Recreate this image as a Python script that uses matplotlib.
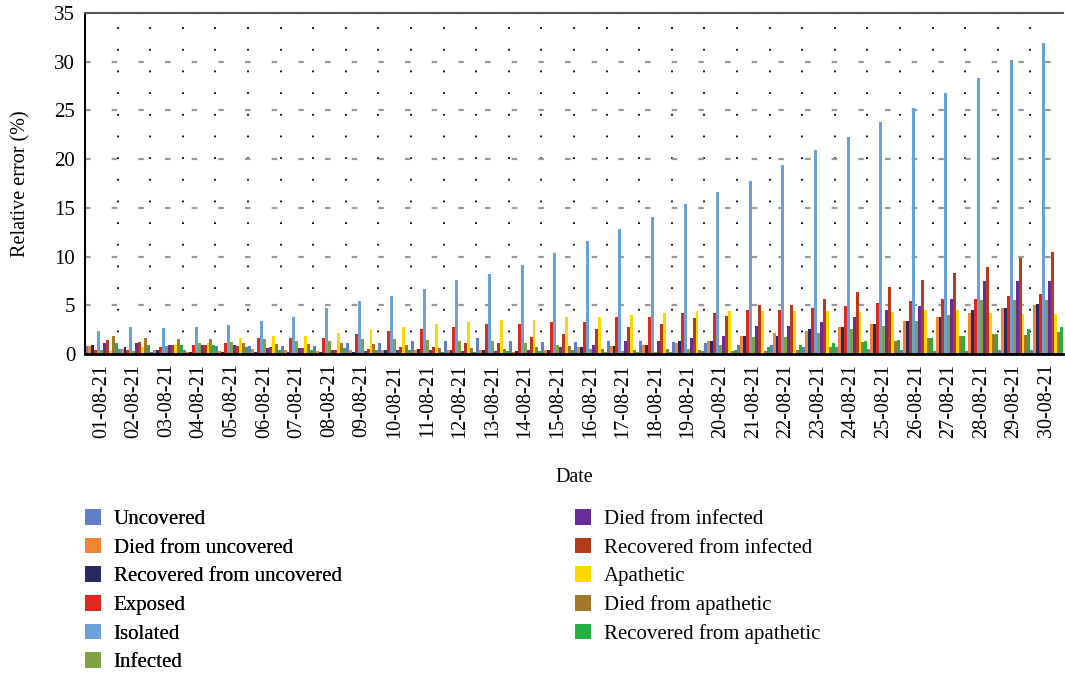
import numpy as np
import matplotlib
matplotlib.use('Agg')
import matplotlib.pyplot as plt

plt.rcParams['font.family'] = ['Liberation Serif', 'DejaVu Serif']

dates = ['%02d-08-21' % d for d in range(1, 31)]

uncovered = [0.82, 0.50, 0.20, 0.41, 0.82, 0.82, 0.82, 0.82, 1.12, 1.12, 1.33, 1.33, 1.63, 1.33, 1.22,
             1.22, 1.33, 1.33, 1.22, 1.12, 0.92, 0.92, 0.71, 0.71, 0.51, 0.41, 0.31, 0.31, 0.41, 0.41]
died_uncovered = [0.82, 0.50, 0.40, 0.20, 0.30, 0.50, 0.41, 0.30, 0.41, 0.41, 0.41, 0.41, 0.41, 0.20, 0.41,
                  0.71, 0.82, 0.92, 1.12, 1.33, 1.84, 2.14, 2.35, 2.76, 3.06, 3.37, 3.78, 4.18, 4.69, 5.00]
rec_uncovered = [0.92, 0.71, 0.41, 0.20, 0.20, 0.20, 0.20, 0.20, 0.20, 0.41, 0.51, 0.41, 0.41, 0.31, 0.41,
                 0.71, 0.82, 0.92, 1.33, 1.33, 1.84, 1.84, 2.55, 2.76, 3.06, 3.37, 3.78, 4.49, 4.69, 5.10]
exposed = [0.41, 0.41, 0.71, 0.92, 1.12, 1.63, 1.63, 1.63, 2.04, 2.35, 2.55, 2.76, 3.06, 3.06, 3.27,
           3.27, 3.78, 3.78, 4.18, 4.18, 4.49, 4.49, 4.69, 4.90, 5.20, 5.41, 5.61, 5.61, 5.92, 6.12]
isolated = [2.35, 2.76, 2.65, 2.76, 2.96, 3.37, 3.78, 4.69, 5.41, 5.92, 6.63, 7.55, 8.16, 9.18, 10.4,
            11.6, 12.8, 14.1, 15.4, 16.6, 17.8, 19.4, 20.9, 22.3, 23.8, 25.3, 26.8, 28.3, 30.2, 31.9]
infected = [0.41, 0.31, 0.82, 1.12, 1.22, 1.53, 1.33, 1.33, 1.53, 1.53, 1.43, 1.33, 1.33, 1.12, 0.92,
            0.51, 0.31, 0.20, 0.51, 0.92, 1.73, 1.73, 2.14, 2.55, 2.86, 3.37, 3.98, 5.51, 5.51, 5.51]
died_infected = [1.12, 1.12, 0.92, 0.92, 0.92, 0.61, 0.61, 0.41, 0.31, 0.41, 0.41, 0.31, 0.31, 0.41, 0.71,
                 0.92, 1.33, 1.33, 1.63, 1.84, 2.86, 2.86, 3.27, 3.78, 4.49, 4.90, 5.61, 7.45, 7.45, 7.45]
rec_infected = [1.43, 1.22, 0.92, 0.92, 0.82, 0.71, 0.61, 0.41, 0.51, 0.71, 0.71, 1.12, 1.12, 1.73, 2.04,
                2.55, 2.76, 3.06, 3.67, 3.88, 5.00, 5.00, 5.61, 6.33, 6.84, 7.55, 8.27, 8.98, 9.90, 10.5]
apathetic = [0.31, 0.71, 0.92, 1.12, 1.63, 1.84, 1.84, 2.14, 2.55, 2.76, 3.06, 3.27, 3.47, 3.47, 3.78,
             3.78, 3.98, 4.18, 4.39, 4.39, 4.39, 4.39, 4.39, 4.29, 4.29, 4.49, 4.49, 4.18, 4.08, 4.08]
died_apathetic = [1.84, 1.63, 1.53, 1.53, 1.12, 1.02, 1.02, 1.12, 1.02, 0.92, 0.61, 0.61, 0.51, 0.71, 0.82,
                  0.51, 0.41, 0.51, 0.41, 0.31, 0.31, 0.41, 0.71, 1.22, 1.33, 1.63, 1.84, 2.04, 1.94, 2.24]
rec_apathetic = [1.12, 0.92, 0.92, 0.92, 0.71, 0.41, 0.41, 0.61, 0.41, 0.41, 0.20, 0.20, 0.31, 0.31, 0.41,
                 0.20, 0.20, 0.20, 0.31, 0.41, 0.71, 0.92, 1.12, 1.33, 1.43, 1.63, 1.84, 2.04, 2.55, 2.76]

series = [
    ('Uncovered', uncovered, '#5f7fc9'),
    ('Died from uncovered', died_uncovered, '#f28432'),
    ('Recovered from uncovered', rec_uncovered, '#272a62'),
    ('Exposed', exposed, '#e0281e'),
    ('Isolated', isolated, '#6aa2d8'),
    ('Infected', infected, '#7fa343'),
    ('Died from infected', died_infected, '#6b2c9b'),
    ('Recovered from infected', rec_infected, '#b63b1b'),
    ('Apathetic', apathetic, '#fcd700'),
    ('Died from apathetic', died_apathetic, '#a5772a'),
    ('Recovered from apathetic', rec_apathetic, '#27b042'),
]

fig = plt.figure(figsize=(10.65, 6.74), dpi=100)
ax = fig.add_axes([85 / 1065, 1 - 354 / 674, 978 / 1065, 341 / 674])

n = len(series)
w = 1.0 / n
x = np.arange(len(dates))
handles = []
for i, (name, vals, col) in enumerate(series):
    b = ax.bar(x - 0.5 + w * (i + 0.5), vals, width=w, color=col, label=name, zorder=2, linewidth=0)
    handles.append(b)

ax.set_xlim(-0.5, len(dates) - 0.5)
ax.set_ylim(0, 35)
ax.set_yticks(range(0, 36, 5))
ax.set_xticks(x)
ax.set_xticklabels(dates, rotation=90, fontsize=14.5)
ax.tick_params(axis='y', labelsize=15, length=0, pad=7)
ax.tick_params(axis='x', length=0, pad=7)

# grid: dotted verticals at group boundaries, dashed grey horizontals
for b in np.arange(0.5, len(dates) - 0.5, 1):
    ax.axvline(b, color='black', linestyle=(0, (1, 11)), linewidth=1.3, zorder=1)
for yv in range(5, 36, 5):
    ax.axhline(yv, color='#999999', linestyle=(0, (2.5, 9.5)), linewidth=1.6, zorder=1)

ax.spines['right'].set_visible(False)
ax.spines['top'].set_color('#555555')
ax.spines['top'].set_linewidth(1.5)
ax.spines['left'].set_linewidth(1.5)
ax.spines['bottom'].set_linewidth(2)

ax.set_ylabel('Relative error (%)', fontsize=14.5, labelpad=17)
ax.set_xlabel('Date', fontsize=14.5, labelpad=22)

leg_kw = dict(loc='upper left', frameon=False, fontsize=15, handlelength=0.78, handleheight=0.78,
              labelspacing=0.41, handletextpad=0.6, borderpad=0, borderaxespad=0)
leg1 = fig.legend(handles=handles[:6], bbox_to_anchor=(85 / 1065, 1 - 509 / 674), **leg_kw)
leg2 = fig.legend(handles=handles[6:], bbox_to_anchor=(575 / 1065, 1 - 509 / 674), **leg_kw)
fig.add_artist(leg1)

fig.savefig('out.png', dpi=100, facecolor='white')
